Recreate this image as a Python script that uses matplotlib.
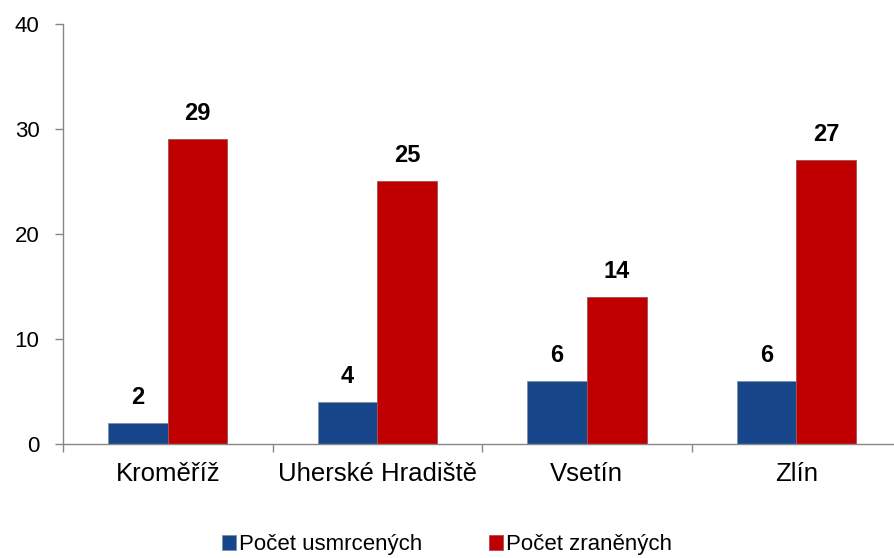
import matplotlib
matplotlib.use("Agg")
import matplotlib.pyplot as plt
import numpy as np

categories = ["Kroměříž", "Uherské Hradiště", "Vsetín", "Zlín"]
usmrcenych = [2, 4, 6, 6]
zranenych = [29, 25, 14, 27]
series_names = ["Počet usmrcených", "Počet zraněných"]

plt.rcParams['font.family'] = ['Liberation Sans', 'DejaVu Sans']

fig = plt.figure(figsize=(8.94, 5.58), dpi=100)
ax = fig.add_axes([0.0705, 0.2043, 0.9374, 0.7527])

x = np.arange(len(categories))
w = 0.285
b1 = ax.bar(x - w/2, usmrcenych, w, color="#17468A", edgecolor="#7f8fa8", linewidth=0.6,
            label=series_names[0])
b2 = ax.bar(x + w/2, zranenych, w, color="#C00000", edgecolor="#a05050", linewidth=0.6,
            label=series_names[1])

for bars, vals in ((b1, usmrcenych), (b2, zranenych)):
    for r, v in zip(bars, vals):
        ax.text(r.get_x() + r.get_width()/2, v + 1.35, str(v), ha="center", va="bottom",
                fontsize=17, fontweight="bold", color="black")

ax.set_xlim(-0.5, len(categories) - 0.5)
ax.set_ylim(0, 40)
ax.set_yticks([0, 10, 20, 30, 40])
ax.tick_params(axis="y", labelsize=16, length=6, color="#868686", width=1, pad=11)

ax.set_xticks(np.arange(len(categories) + 1) - 0.5)
ax.set_xticklabels([])
ax.set_xticks(x, minor=True)
ax.set_xticklabels(categories, minor=True)
ax.tick_params(axis="x", which="major", length=6, color="#868686", width=1)
ax.tick_params(axis="x", which="minor", length=0, labelsize=18.5, pad=13)

for s in ["top", "right"]:
    ax.spines[s].set_visible(False)
for s in ["left", "bottom"]:
    ax.spines[s].set_color("#868686")
    ax.spines[s].set_linewidth(1)

leg = fig.legend(handles=[b1, b2], labels=series_names, loc="center",
                 bbox_to_anchor=(0.5, 0.024), ncol=2, frameon=False, fontsize=16,
                 handlelength=0.63, handleheight=0.63, handletextpad=0.15, columnspacing=3.0,
                 borderpad=0, borderaxespad=0)

fig.savefig("out.png", dpi=100)
